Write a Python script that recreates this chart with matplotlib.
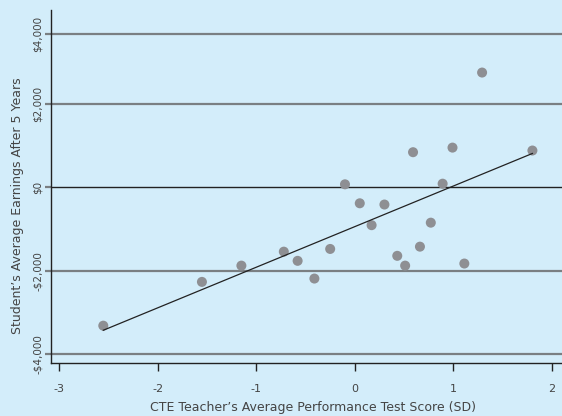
import numpy as np
import matplotlib
matplotlib.use('Agg')
from matplotlib import pyplot as plt

# teacher test score (SD) vs student earnings after 5 years
score = [-2.55, -1.55, -1.15, -0.72, -0.58, -0.41, -0.25, -0.10, 0.05, 0.17, 0.30,
         0.43, 0.51, 0.59, 0.66, 0.77, 0.89, 0.99, 1.11, 1.29, 1.80]
earnings = [-3320, -2270, -1880, -1545, -1765, -2190, -1480, 70, -385, -910, -415,
            -1645, -1880, 840, -1425, -850, 85, 950, -1830, 2750, 880]

fit_x = [-2.55, 1.80]
fit_y = [-3430, 810]

xticks = [-3, -2, -1, 0, 1, 2]
yticks = [-4000, -2000, 0, 2000, 3680]
ylabels = ['-$4,000', '-$2,000', '$0', '$2,000', '$4,000']

bg = '#d3edfa'
plt.rcParams['font.family'] = 'DejaVu Sans'

fig = plt.figure(figsize=(5.62, 4.16), dpi=100)
fig.patch.set_facecolor(bg)
ax = fig.add_axes([51/562, 53/416, 1 - 51/562, 353/416])
ax.set_facecolor(bg)

for v in yticks:
    if v == 0:
        ax.axhline(v, color='#222222', lw=1.0, zorder=1)
    else:
        ax.axhline(v, color='#7a7f82', lw=1.6, zorder=1)

ax.scatter(score, earnings, s=52, color='#8e8f93', edgecolors='none', zorder=3)
ax.plot(fit_x, fit_y, color='#222222', lw=0.9, zorder=4)

ax.set_xlim(-3.08, 2.1)
ax.set_ylim(-4215, 4250)
ax.set_xticks(xticks)
ax.set_xticklabels([str(t) for t in xticks])
ax.set_yticks(yticks)
ax.set_yticklabels(ylabels, rotation=90, va='center')

for s in ['top', 'right']:
    ax.spines[s].set_visible(False)
for s in ['left', 'bottom']:
    ax.spines[s].set_color('#222222')
    ax.spines[s].set_linewidth(1.0)

ax.tick_params(axis='x', length=6, width=1, color='#222222', labelsize=8, labelcolor='#444444', pad=9)
ax.tick_params(axis='y', length=4, width=1.6, color='#7a7f82', labelsize=7.5, labelcolor='#444444', pad=2)

ax.set_xlabel('CTE Teacher’s Average Performance Test Score (SD)', fontsize=9, color='#444444')
ax.xaxis.set_label_coords((313 - 51) / 511, -38 / 353)
ax.set_ylabel('Student’s Average Earnings After 5 Years', fontsize=9, color='#444444')
ax.yaxis.set_label_coords(-27 / 511, (363 - 206) / 353)

fig.savefig('out.png', dpi=100, facecolor=bg)
